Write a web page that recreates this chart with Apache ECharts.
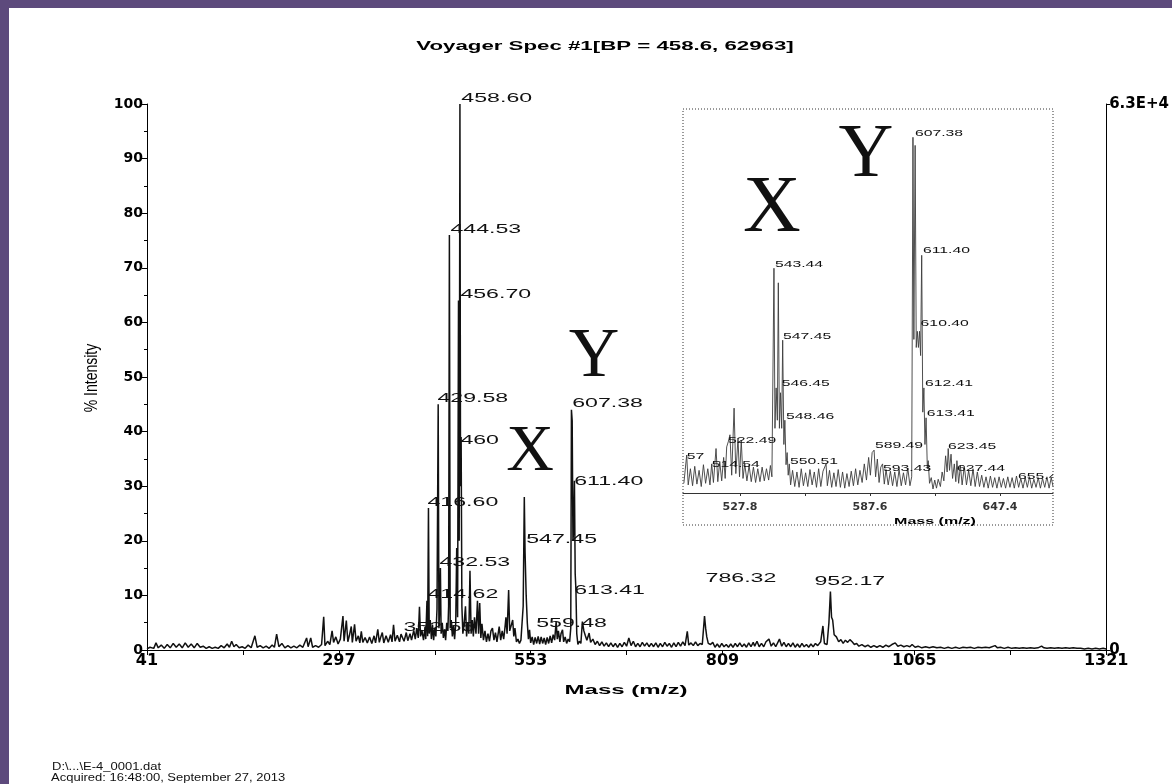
<!DOCTYPE html>
<html>
<head>
<meta charset="utf-8">
<script src="https://cdn.jsdelivr.net/npm/echarts@6/dist/echarts.min.js"></script>
<style>
html, body { margin: 0; padding: 0; background: #fff; }
#main { width: 1172px; height: 784px; }
</style>
</head>
<body>
<div id="main"></div>
<script>
// 主谱图数据 [m/z, % intensity]
var mainPoints = [
	[41,0.2],[45,0.5],[50,0.3],[53,1.3],[56,0.4],[60,0.9],[64,0.3],[68,1.0],[72,0.4],[76,1.2],[80,0.5],[84,1.1],[88,0.4],[92,1.3],[96,0.5],
	[100,1.1],[104,0.4],[108,1.2],[112,0.5],[116,0.7],[120,0.3],[124,0.6],[128,0.3],[132,0.5],[136,0.3],[140,0.8],[144,0.4],[148,1.1],[151,0.5],
	[154,1.6],[157,0.6],[160,1.0],[164,0.4],[168,0.6],[172,0.3],[176,0.9],[180,0.4],[185,2.6],[188,0.5],[192,0.8],[196,0.4],[200,0.7],[204,0.3],
	[208,0.9],[211,0.5],[214,2.9],[217,0.6],[221,1.2],[225,0.4],[229,0.8],[233,0.4],[237,0.7],[241,0.4],[245,0.9],[249,0.5],[254,2.2],[256,0.6],
	[259.5,2.2],[262,0.5],[266,0.8],[270,0.5],[274,1.0],[276.8,6.1],[278.5,0.8],[282,1.6],[285,1.0],[288,3.5],[290,1.4],[293,2.4],[296,1.1],
	[299,2.0],[302.5,6.2],[304,1.6],[307,5.4],[309,1.5],[311,2.6],[313.6,4.3],[315,1.4],[318,4.7],[320,1.6],[323,2.6],[325,1.3],[327,3.4],
	[329,1.4],[332,2.3],[335,1.3],[338,2.4],[341,1.2],[344,2.6],[346,1.3],[349,3.8],[351,1.4],[353,2.4],[355,3.2],[357,1.3],[360,2.6],[363,1.4],
	[366,2.8],[368,1.5],[370,4.6],[372,1.6],[375,2.7],[378,1.5],[380,2.9],[382,3.1],[384,1.6],[387,3.2],[389,1.7],[392,3.0],[394,1.8],[397,3.6],
	[399,2.0],[401,4.0],[403,2.2],[404.6,7.9],[406,2.5],[408,3.5],[410,1.8],[412,4.2],[413,2.0],[414.6,9.0],[415.5,2.5],[416.6,26],[417.6,3.0],
	[419,5.5],[420.5,2.0],[422,4.6],[423.5,1.8],[425,4.0],[426.5,2.5],[428,7.5],[429.58,45],[430.6,4.0],[431.6,8],[432.53,15],[433.5,3.0],
	[435,5.0],[436.5,2.2],[438,3.8],[439.5,1.8],[441,5.0],[442.5,3.5],[443.5,8],[444.53,76],[445.6,4.0],[447,5.5],[448.5,2.5],[450,4.5],
	[451.5,2.0],[453,5.0],[454.3,18.7],[455.5,6.0],[456.7,64],[457.6,20],[458.6,100],[459.4,30],[460.2,39],[461.2,8],[462.5,3.0],[464,4.5],
	[466,8.0],[467.5,2.5],[469,5.0],[470.5,3.0],[472,14.5],[473.5,3.0],[475,5.5],[476.5,2.5],[478,6.0],[480,3.0],[482,9.0],[483.5,3.0],
	[485,8.6],[486.5,2.2],[488,4.8],[490,1.8],[492,3.5],[494,1.5],[496,3.0],[498,1.6],[500,3.5],[502,4.0],[504,1.8],[506,3.2],[508,1.5],
	[511,4.3],[513,1.8],[515,3.5],[517,2.0],[519,4.5],[520,6.0],[521.5,3.0],[523.6,11],[525,3.5],[527,4.5],[529,5.5],[530.5,2.5],[532,4.0],
	[534,1.5],[536,2.0],[538,1.2],[540,1.8],[542,2.0],[543,8],[544.5,28],[545.5,18],[547,10],[548.5,5],[550,2.0],[551.5,3.7],[553,1.3],
	[555,2.4],[557,1.0],[559,2.3],[561,1.2],[563,2.5],[565,1.1],[567,2.4],[569,1.2],[571,2.2],[573,1.0],[575,2.3],[577,1.2],[579,2.6],
	[581,1.3],[583,2.8],[585,1.8],[587,5.2],[588.5,2.0],[590,3.5],[592,1.5],[593.5,3.0],[595.5,3.7],[597,1.5],[599,2.4],[601,1.2],[603,2.0],
	[605,1.5],[606.5,4],[607.4,44],[608.4,42],[609.4,20],[610.4,22],[611.4,31],[612.4,14],[613.4,11],[614.5,3],[616,1.0],[618,1.6],[620,1.2],
	[622,5.2],[624,3.5],[626,2.6],[628,1.8],[631,3.1],[633,1.4],[636,2.0],[639,1.0],[642,1.6],[645,0.8],[648,1.5],[651,0.7],[654,1.3],
	[657,0.6],[660,1.3],[663,0.6],[666,1.2],[669,0.5],[672,1.2],[675,0.6],[678,1.4],[681,0.7],[684,2.2],[687,0.8],[690,1.6],[693,0.6],
	[696,1.2],[699,0.6],[702,1.4],[705,0.7],[708,1.3],[711,0.6],[714,1.2],[717,0.6],[720,1.3],[723,0.5],[726,1.2],[729,0.6],[732,1.4],
	[735,0.7],[738,1.2],[741,0.5],[744,1.3],[747,0.6],[750,1.4],[753,0.7],[756,1.5],[759,0.8],[762,3.4],[764,0.9],[767,1.3],[770,0.8],
	[773,1.5],[776,0.8],[779,1.2],[782,1.0],[785,6.2],[786.5,4.0],[788,2.4],[790,1.2],[793,1.0],[796,1.4],[799,0.5],[802,1.1],[805,0.5],
	[808,1.2],[811,0.6],[814,1.0],[817,0.5],[820,1.1],[823,0.5],[826,1.2],[829,0.6],[832,1.3],[835,0.6],[838,1.1],[841,0.5],[844,1.3],
	[847,0.6],[850,1.4],[852,0.7],[855,1.6],[858,0.6],[861,1.2],[864,0.6],[867,1.5],[871,2.0],[874,0.7],[877,1.3],[880,0.6],[885,2.0],
	[888,0.7],[891,1.4],[894,0.6],[897,1.2],[900,0.6],[903,1.3],[906,0.5],[909,1.1],[912,0.5],[915,1.2],[918,0.6],[921,1.0],[924,0.5],
	[927,1.1],[930,0.6],[933,1.2],[936,0.8],[940,1.5],[943,4.4],[945,1.2],[948.5,1.0],[951,5],[953,10.7],[954.5,6],[956,5.5],[958,2.8],
	[961,2.4],[964,1.5],[967,1.9],[970,1.2],[973,1.8],[976,1.4],[979,1.9],[982,1.5],[985,1.0],[988,1.2],[991,0.7],[995,1.0],[999,0.6],
	[1003,0.9],[1007,0.5],[1011,0.8],[1015,0.5],[1019,0.8],[1023,0.5],[1027,0.9],[1031,0.6],[1035,1.0],[1039.5,1.3],[1043,0.7],[1047,0.9],
	[1051,0.6],[1055,0.8],[1059,0.6],[1062,1.0],[1066,0.5],[1070,0.7],[1075,0.4],[1080,0.6],[1085,0.4],[1090,0.6],[1095,0.4],[1100,0.5],
	[1105,0.3],[1110,0.5],[1115,0.3],[1120,0.5],[1125,0.3],[1130,0.5],[1135,0.4],[1140,0.5],[1145,0.3],[1150,0.5],[1155,0.4],[1160,0.5],
	[1165,0.4],[1172.7,0.8],[1176,0.4],[1180,0.5],[1185,0.3],[1190,0.5],[1195,0.3],[1200,0.4],[1205,0.3],[1210,0.4],[1215,0.3],[1220,0.4],
	[1225,0.3],[1230,0.4],[1234.8,0.7],[1238,0.4],[1242,0.3],[1247,0.4],[1252,0.3],[1257,0.4],[1262,0.3],[1267,0.4],[1272,0.3],[1277,0.4],
	[1282,0.3],[1287,0.3],[1292,0.2],[1297,0.3],[1302,0.2],[1307,0.3],[1312,0.2],[1317,0.3],[1321,0.2]
];

// 放大图数据 (同样的 % 刻度)
var insetPoints = [
	[502,1.2],[503.3,4.7],[504,1.0],[505,3.0],[506,0.9],[507,3.3],[508,1.1],[509,2.8],[510,0.8],[511,3.5],[512,1.2],[513,3.0],[514,1.0],
	[514.8,3.6],[515.6,1.3],[516.8,5.5],[517.6,1.4],[518.5,3.9],[519.4,1.5],[520.3,4.4],[521,1.8],[521.7,5.7],[522.5,6.4],[523.2,7.2],[524,2.2],
	[525.1,10.5],[525.9,2.4],[526.9,6.8],[527.6,2.0],[528.4,6.5],[529.2,1.8],[530,3.6],[531,1.5],[532,3.4],[533,1.4],[534,3.2],[535,1.3],
	[536,3.0],[537,1.4],[538,3.2],[539,1.5],[540,3.0],[541,1.6],[541.8,3.4],[542.5,2.0],
	[543.44,27.8],[543.9,8],[544.44,13],[545,9],[545.45,26],[545.95,8],[546.45,12.4],[547,8],[547.45,18.9],[548,6],[548.46,9],[549,3.5],
	[549.5,5],[550,2.2],[550.5,3.6],[551.1,1.0],
	[552,2.8],[553,0.8],[554,2.6],[555,0.7],[556,3.0],[557,0.9],[558,2.5],[559,0.8],[560,2.9],[561,1.0],[562,2.6],[563,0.7],[564,3.0],
	[565,0.8],[566,2.7],[567.4,3.6],[568,0.9],[569,2.8],[570,0.7],[571,2.5],[572,0.8],[573,2.9],[574,0.7],[575,2.6],[576,0.6],[577,2.4],
	[578,0.8],[579,2.7],[580,0.9],[581,3.0],[582,1.0],[583,2.8],[584,1.3],[585,3.6],[586,1.6],[587,4.4],[587.8,2.2],[588.6,5.0],[589.5,5.3],
	[590.2,2.0],[591,4.2],[591.8,1.3],[592.6,3.2],[593.4,3.6],[594.2,1.1],[595,2.9],[596,1.0],[597,2.7],[598,0.9],[599,2.6],[600,0.8],
	[601,2.9],[602,0.9],[603,2.5],[604,1.0],[605,3.1],[606,0.9],[606.8,2.0],
	[607.38,44],[607.8,19],[608.38,43],[608.9,18],[609.39,20],[609.9,18],[610.4,20],[610.9,17],[611.4,29.4],[611.9,10],[612.41,13],[612.9,6],
	[613.41,9.3],[614,3],[614.4,4],[615,1.2],[615.8,1.9],[616.6,0.5],[617.4,1.6],[618.2,0.6],[619,1.7],[620,0.8],[620.8,2.6],[621.6,1.5],
	[622.4,4.6],[623.1,2.6],[623.6,5.5],[624.2,2.8],[624.9,4.8],[625.6,1.8],[626.4,3.6],[627.1,1.4],[627.6,4.0],[628.4,1.2],[629.2,3.4],
	[630,1.0],[631,3.3],[632,1.0],[633,2.8],[634,0.9],[635,3.0],[636,0.8],[637,2.6],[638,0.8],[639,2.2],[640,0.7],[641,2.0],[642,0.6],
	[643,2.1],[644,0.7],[645,1.9],[646,0.6],[647,2.0],[648,0.7],[649,1.8],[650,0.6],[651,2.0],[652,0.7],[653,1.9],[654,0.6],[655,2.1],
	[656,0.7],[657,1.8],[658,0.6],[659,1.9],[660,0.7],[661,2.0],[662,0.6],[663,1.7],[664,0.7],[665,1.9],[666,0.6],[667,1.8],[668,0.7],
	[669,2.0],[670,0.6],[671,1.9],[671.8,0.8]
];

// 峰标注
var mainLabelText = ['458.60', '444.53', '456.70', '429.58', '460', '416.60', '607.38', '611.40', '547.45', '432.53', '613.41', '414.62', '352.55', '559.48', '786.32', '952.17'];
var mainLabelMass = [460.5, 445.9, 459.2, 428.6, 459.2, 415.3, 608.4, 611.1, 547.1, 431.2, 611.1, 415.3, 383.3, 560.4, 786.4, 931.7];
var mainLabelInt = [101.1, 77.1, 65.2, 46, 38.3, 27.1, 45.2, 30.8, 20.3, 16.1, 11, 10.1, 4.2, 4.9, 13.2, 12.6];

var insetLabelText = ['607.38', '611.40', '610.40', '612.41', '613.41', '623.45', '627.44', '589.49', '593.43', '543.44', '547.45', '546.45', '548.46', '550.51', '522.49', '514.54', '57', '655.4'];
var insetLabelMass = [608.3, 612.0, 610.9, 612.9, 613.7, 623.5, 627.6, 589.9, 593.6, 543.9, 547.6, 547.0, 549.0, 550.8, 522.3, 514.8, 503.3, 655.7];
var insetLabelInt = [44.5, 29.95, 21, 13.6, 9.85, 5.7, 3.05, 5.85, 3.05, 28.3, 19.3, 13.6, 9.5, 3.9, 6.55, 3.5, 4.5, 2.0];

// 刻度
var xTickValues = [41, 169, 297, 425, 553, 681, 809, 937, 1065, 1193, 1321];
var xLabelValues = [41, 297, 553, 809, 1065, 1321];
var insetTickValues = [527.8, 557.7, 587.6, 617.5, 647.4];
var insetLabelValues = [527.8, 587.6, 647.4];

var STRETCH = 1.78;
var purple = '#5d4a7c';

function plain(v) {
	return String(v);
}

function labelItem(texts, font, stretch) {
	return function(params, api) {
		var p = api.coord([api.value(0), api.value(1)]);
		return {
			type : 'text',
			x : p[0],
			y : p[1],
			scaleX : stretch,
			style : {
				text : texts[api.value(2)],
				font : font,
				fill : '#111',
				align : 'left',
				verticalAlign : 'middle'
			}
		};
	};
}

function stretchedText(x, y, text, font) {
	return {
		type : 'text',
		x : x,
		y : y,
		scaleX : STRETCH,
		style : {
			text : text,
			font : font,
			fill : '#000',
			align : 'center',
			verticalAlign : 'middle'
		}
	};
}

var chart = echarts.init(document.getElementById('main'));

var option = {
	animation : false,
	backgroundColor : '#fff',
	grid : [
		{ left : 147, right : 64, top : 104, bottom : 134 },
		{ left : 683, right : 119, top : 109, bottom : 291 }
	],
	xAxis : [ {
		type : 'value',
		gridIndex : 0,
		min : 41,
		max : 1321,
		axisLine : { lineStyle : { color : '#000', width : 1 } },
		axisTick : { customValues : xTickValues, length : 5, lineStyle : { color : '#000' } },
		axisLabel : {
			customValues : xLabelValues,
			formatter : plain,
			color : '#000',
			fontFamily : 'DejaVu Sans',
			fontWeight : 'bold',
			fontSize : 16,
			margin : 3
		},
		splitLine : { show : false }
	}, {
		type : 'value',
		gridIndex : 1,
		min : 501.6,
		max : 671.8,
		axisLine : { lineStyle : { color : '#333', width : 1 } },
		axisTick : { customValues : insetTickValues, length : 3, lineStyle : { color : '#333' } },
		axisLabel : {
			customValues : insetLabelValues,
			formatter : plain,
			color : '#333',
			fontFamily : 'DejaVu Sans',
			fontWeight : 'bold',
			fontSize : 11,
			margin : 9
		},
		splitLine : { show : false }
	} ],
	yAxis : [ {
		type : 'value',
		gridIndex : 0,
		position : 'left',
		min : 0,
		max : 100,
		interval : 10,
		axisLine : { show : true, lineStyle : { color : '#000', width : 1 } },
		axisTick : { show : true, length : 5, lineStyle : { color : '#000' } },
		minorTick : { show : true, splitNumber : 2, length : 3, lineStyle : { color : '#000' } },
		axisLabel : {
			color : '#000',
			fontFamily : 'DejaVu Sans',
			fontWeight : 'bold',
			fontSize : 14,
			margin : 4
		},
		splitLine : { show : false }
	}, {
		type : 'value',
		gridIndex : 0,
		position : 'right',
		min : 0,
		max : 62963,
		interval : 62963,
		axisLine : { show : true, lineStyle : { color : '#000', width : 1 } },
		axisTick : { show : true, length : 4, lineStyle : { color : '#000' } },
		axisLabel : {
			color : '#000',
			fontFamily : 'DejaVu Sans',
			fontWeight : 'bold',
			fontSize : 15,
			margin : 3,
			formatter : function(v) {
				return v === 0 ? '0' : '6.3E+4';
			}
		},
		splitLine : { show : false }
	}, {
		type : 'value',
		gridIndex : 1,
		min : 0,
		max : 47.5,
		show : false
	} ],
	series : [ {
		type : 'line',
		xAxisIndex : 0,
		yAxisIndex : 0,
		data : mainPoints,
		showSymbol : false,
		lineStyle : { color : '#111', width : 1.5 }
	}, {
		type : 'custom',
		xAxisIndex : 0,
		yAxisIndex : 0,
		data : mainLabelMass.map(function(m, i) { return [m, mainLabelInt[i], i]; }),
		renderItem : labelItem(mainLabelText, '13px "Liberation Sans", Arial, sans-serif', STRETCH),
		z : 5
	}, {
		type : 'line',
		xAxisIndex : 1,
		yAxisIndex : 2,
		data : insetPoints,
		showSymbol : false,
		lineStyle : { color : '#3c3c3c', width : 0.9 }
	}, {
		type : 'custom',
		xAxisIndex : 1,
		yAxisIndex : 2,
		clip : true,
		data : insetLabelMass.map(function(m, i) { return [m, insetLabelInt[i], i]; }),
		renderItem : labelItem(insetLabelText, '9px "Liberation Sans", Arial, sans-serif', 1.75),
		z : 5
	} ],
	graphic : [
		// 紫色边框
		{ type : 'rect', shape : { x : 0, y : 0, width : 1172, height : 8 }, style : { fill : purple } },
		{ type : 'rect', shape : { x : 0, y : 0, width : 9, height : 784 }, style : { fill : purple } },
		// 放大图虚线框
		{ type : 'rect', shape : { x : 683, y : 109, width : 370, height : 416 },
			style : { fill : 'none', stroke : '#333', lineWidth : 1, lineDash : [1, 2] } },
		stretchedText(605, 47, 'Voyager Spec #1[BP = 458.6, 62963]', 'bold 12.5px "Liberation Sans", Arial, sans-serif'),
		stretchedText(626, 690, 'Mass (m/z)', 'bold 13.5px "Liberation Sans", Arial, sans-serif'),
		stretchedText(935, 522, 'Mass (m/z)', 'bold 9px "Liberation Sans", Arial, sans-serif'),
		{
			type : 'text', x : 92, y : 378, rotation : Math.PI / 2, scaleY : 1.3,
			style : { text : '% Intensity', font : '14px "Liberation Sans", Arial, sans-serif', fill : '#000',
				align : 'center', verticalAlign : 'middle' }
		},
		{ type : 'text', x : 530, y : 453, style : { text : 'X', font : '66px "Liberation Serif", serif', fill : '#111', align : 'center', verticalAlign : 'middle' } },
		{ type : 'text', x : 594, y : 358, style : { text : 'Y', font : '70px "Liberation Serif", serif', fill : '#111', align : 'center', verticalAlign : 'middle' } },
		{ type : 'text', x : 772, y : 210, style : { text : 'X', font : '80px "Liberation Serif", serif', fill : '#111', align : 'center', verticalAlign : 'middle' } },
		{ type : 'text', x : 866, y : 156, style : { text : 'Y', font : '76px "Liberation Serif", serif', fill : '#111', align : 'center', verticalAlign : 'middle' } },
		{ type : 'text', x : 52, y : 767, scaleX : 1.3,
			style : { text : 'D:\\...\\E-4_0001.dat', font : '10px "Liberation Sans", Arial, sans-serif', fill : '#111', verticalAlign : 'middle' } },
		{ type : 'text', x : 51, y : 778, scaleX : 1.3,
			style : { text : 'Acquired: 16:48:00, September 27, 2013', font : '10px "Liberation Sans", Arial, sans-serif', fill : '#111', verticalAlign : 'middle' } }
	]
};

chart.setOption(option);
</script>
</body>
</html>
